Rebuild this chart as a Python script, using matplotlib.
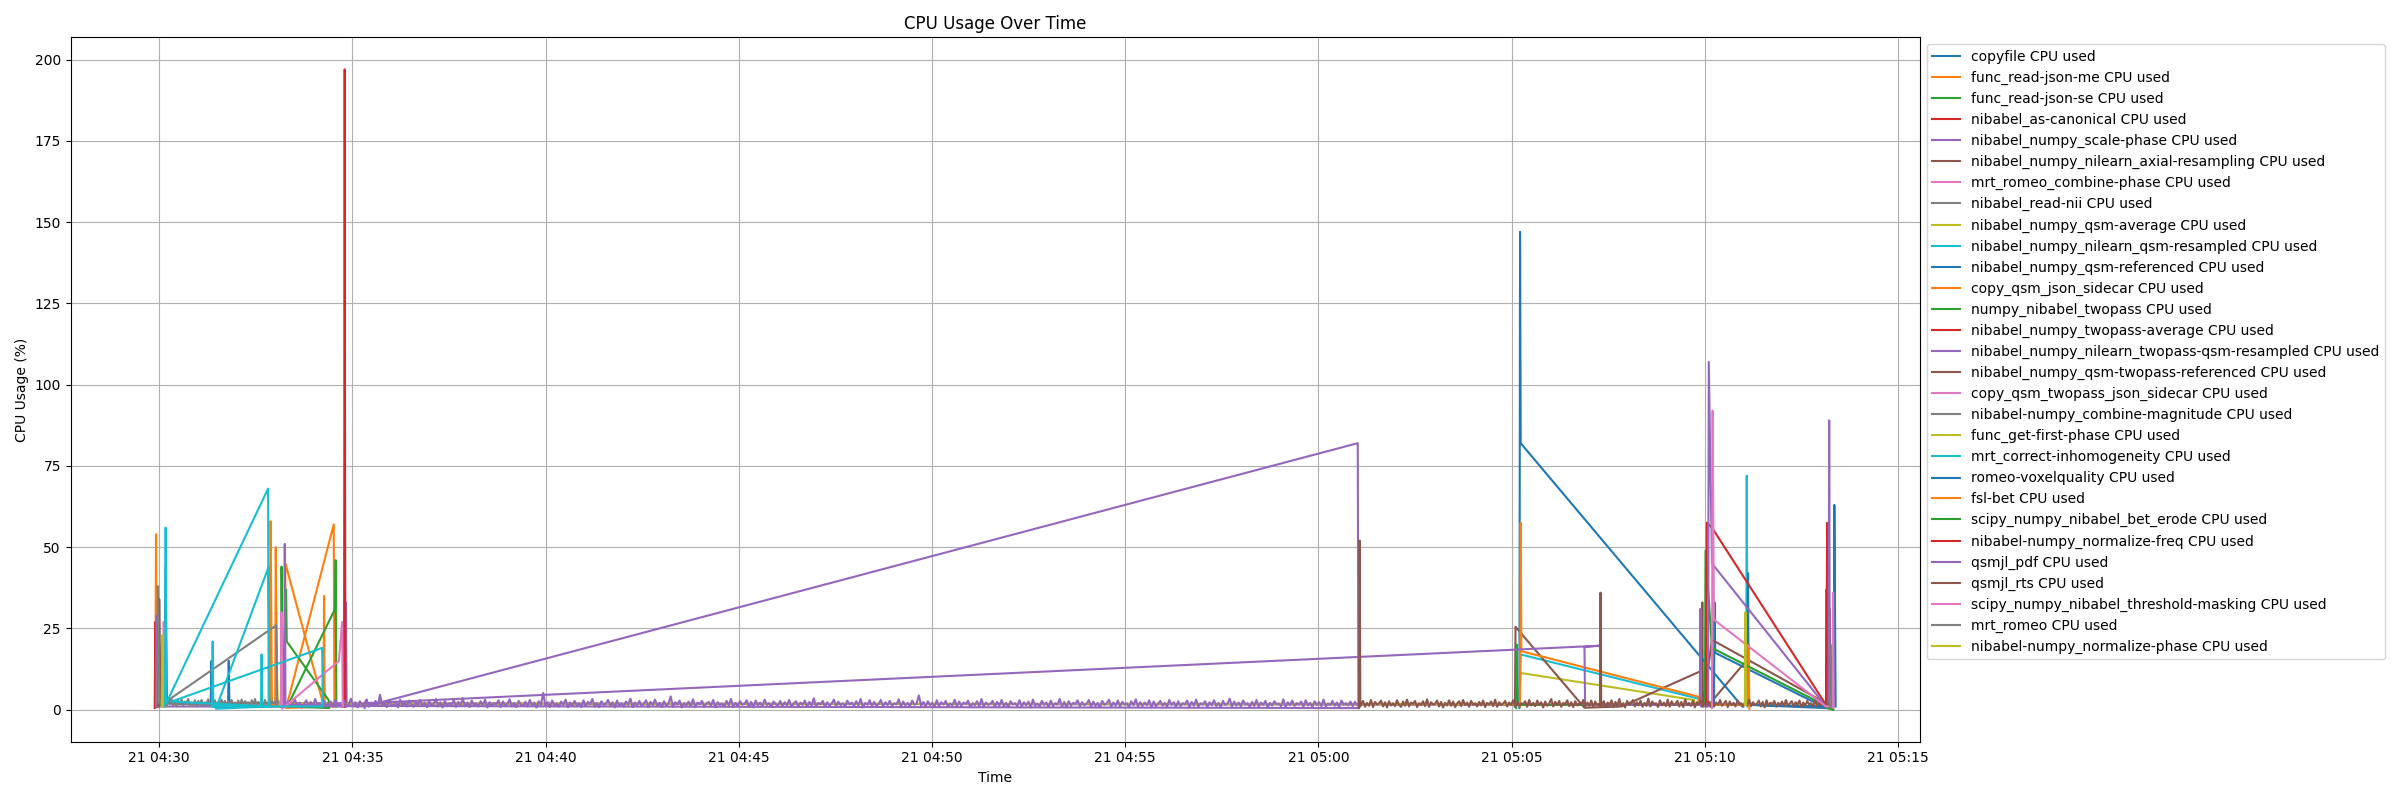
import matplotlib
matplotlib.use("Agg")
import matplotlib.pyplot as plt
import pandas as pd

DAY = "2024-05-21"

# (clock time, cpu %) samples per process
copyfile = [("04:30:08", 1.0), ("04:30:10", 44.0), ("04:30:12", 2.0), ("04:31:20", 1.5),
            ("04:31:21", 15.0), ("04:31:22", 1.0), ("04:31:47", 1.2), ("04:31:48", 15.0), ("04:31:49", 0.8)]
read_json_me = [("04:29:54", 2.0), ("04:29:55", 54.0), ("04:29:57", 3.0)]
read_json_se = [("04:29:59", 1.0), ("04:30:00", 20.0), ("04:30:02", 1.5)]
as_canonical = [("04:29:53", 0.5), ("04:29:54", 27.0), ("04:29:56", 0.8)]
scale_phase = [("04:29:55", 1.0), ("04:29:56", 29.0), ("04:29:58", 1.0),
               ("04:34:49", 1.0), ("04:34:50", 33.0), ("04:34:51", 1.0)]
axial_resampling = [("04:29:59", 1.0), ("04:30:00", 34.0), ("04:30:02", 2.0),
                    ("05:10:06", 1.5), ("05:11:04", 15.0), ("05:11:05", 1.5)]
combine_phase = [("04:30:06", 1.0), ("04:30:07", 27.0), ("04:30:09", 1.5)]
read_nii = [("04:29:57", 2.0), ("04:29:58", 38.0), ("04:30:00", 2.5)]
qsm_average = [("04:33:01", 1.0), ("04:33:02", 20.0), ("04:33:04", 1.8), ("05:05:12", 1.8),
               ("05:05:14", 11.3), ("05:09:43", 3.0), ("05:09:44", 1.5)]
qsm_resampled = [("05:05:12", 1.0), ("05:05:14", 17.0), ("05:09:50", 3.4), ("05:09:51", 1.5),
                 ("05:11:04", 1.5), ("05:11:05", 72.0), ("05:11:06", 1.0)]
qsm_referenced = [("05:10:14", 1.0), ("05:10:15", 33.0), ("05:10:16", 17.5), ("05:13:08", 0.5),
                  ("05:11:06", 1.5), ("05:11:07", 42.0), ("05:11:08", 1.5),
                  ("05:13:20", 1.0), ("05:13:21", 63.0), ("05:13:23", 1.0)]
copy_qsm_json = [("04:32:52", 1.0), ("04:32:53", 58.0), ("04:32:55", 1.5), ("04:33:00", 1.0),
                 ("04:33:01", 50.0), ("04:33:03", 1.0), ("04:33:15", 1.0), ("04:33:16", 45.0),
                 ("04:34:13", 3.0), ("04:34:15", 1.0), ("04:34:16", 35.0), ("04:34:17", 1.0),
                 ("04:33:17", 0.5), ("04:34:31", 57.0), ("04:34:32", 1.0)]
twopass = [("04:33:09", 1.0), ("04:33:10", 44.0), ("04:33:12", 1.0), ("04:33:17", 37.0),
           ("04:33:18", 21.0), ("04:34:23", 3.0), ("04:34:24", 0.5), ("04:33:19", 1.0),
           ("04:34:33", 31.0), ("04:34:34", 46.0), ("04:34:35", 1.0)]
twopass_average = [("04:34:47", 1.0), ("04:34:48", 197.0), ("04:34:49", 1.0)]
twopass_qsm_resampled = [("04:33:14", 1.0), ("04:33:15", 51.0), ("04:33:16", 1.5),
                         ("04:35:20", 1.0), ("05:01:01", 82.0), ("05:01:02", 0.5)]
# background samples, in tenths of a percent
twopass_noise = [
    12, 26, 8, 19, 31, 10, 22, 6, 17, 29, 11, 24, 9, 33, 15, 20, 7, 27, 13, 18, 25, 9, 30, 14,
    21, 8, 28, 12, 16, 34, 10, 23, 7, 26, 15, 19, 32, 9, 22, 13, 27, 11, 46, 14, 20, 8, 29, 16,
    12, 25, 7, 31, 13, 22, 10, 28, 17, 9, 24, 15, 30, 11, 21, 8, 26, 14, 18, 33, 10, 23, 7, 27,
    12, 20, 16, 29, 9, 24, 13, 36, 11, 22, 8, 28, 15, 19, 10, 26, 14, 31, 7, 23, 12, 20, 17, 29,
    9, 25, 13, 18, 32, 10, 21, 8, 27, 16, 12, 24, 10, 30, 14, 22, 7, 26, 15, 52, 11, 23, 9, 28,
    13, 19, 10, 25, 16, 31, 8, 22, 12, 27, 14, 20, 9, 29, 11, 24, 17, 33, 10, 21, 8, 26, 15, 18,
    30, 12, 23, 7, 28, 13, 20, 10, 25, 16, 34, 9, 22, 14, 27, 11, 19, 29, 8, 24, 15, 31, 12, 21,
    9, 26, 13, 18, 41, 10, 23, 16, 28, 7, 20, 14, 25, 11, 32, 9, 22, 17, 27, 10, 19, 24, 13, 30,
    8, 23, 15, 19, 11, 27, 14, 33, 9, 21, 12, 26, 16, 18, 29, 10, 24, 7, 28, 13, 22, 11, 31, 15,
    20, 9, 25, 17, 12, 27, 10, 23, 14, 30, 8, 19, 26, 11, 22, 15, 28, 9, 24, 13, 35, 10, 21, 16,
    27, 8, 23, 12, 19, 31, 10, 25, 14, 20, 9, 28, 16, 22, 11, 26, 13, 33, 7, 21, 15, 29, 10, 24,
    12, 18, 30, 9, 23, 14, 27, 11, 20, 16, 32, 8, 25, 13, 21, 10, 28, 15, 19, 44, 12, 24, 9, 26,
    14, 21, 8, 29, 11, 23, 16, 27, 10, 19, 13, 31, 9, 25, 12, 22, 17, 28, 8, 20, 14, 26, 11, 33,
    10, 22, 15, 18, 27, 9, 24, 13, 30, 11, 21, 8, 26, 16, 20, 12, 29, 10, 23, 14, 25, 7, 31, 13,
    19, 11, 27, 15, 22, 9, 28, 12, 20, 16, 33, 10, 24, 8, 26, 13, 21, 17, 29, 11, 23, 14, 18, 30,
    9, 25, 12, 21, 8, 27, 15, 19, 31, 10, 22, 13, 28, 11, 24, 16, 20, 9, 26, 14, 32, 10, 23, 12,
    22, 14, 29, 8, 25, 11, 19, 27, 13, 21, 10, 30, 15, 23, 9, 26, 12, 20, 17, 28, 10, 24, 13, 31,
    11, 20, 16, 26, 9, 23, 14, 29, 12, 21, 8, 27, 15, 19, 34, 10, 25, 13, 22, 11, 28, 16, 20, 9,
    24, 12, 30, 10, 22, 15, 27, 8, 21, 13, 26, 17, 19, 11, 32, 9, 23, 14, 28, 12, 20, 16, 25, 10,
    29, 13, 21, 9, 26, 15, 23, 11, 31, 10, 19, 14, 27, 12, 22, 8, 28, 16, 20, 13, 25, 11, 24, 15]
twopass_referenced = [("05:05:05", 1.0), ("05:05:06", 25.5), ("05:06:53", 0.6), ("05:07:51", 1.0),
                      ("05:09:55", 12.0), ("05:09:56", 33.0), ("05:09:57", 1.0), ("05:10:11", 21.5),
                      ("05:13:08", 2.0), ("05:13:09", 37.0), ("05:13:10", 1.0), ("05:13:14", 31.0),
                      ("05:13:15", 1.0)]
copy_twopass_json = [("04:33:09", 1.0), ("04:33:10", 30.0), ("04:33:11", 0.3), ("04:34:39", 15.0),
                     ("04:34:44", 27.0), ("04:34:45", 1.0)]
combine_magnitude = [("04:30:11", 2.5), ("04:33:02", 26.0), ("04:33:03", 1.0)]
magnitude_noise = [
    21, 30, 14, 26, 11, 29, 18, 32, 13, 24, 10, 28, 16, 31, 12, 25, 19, 33, 11, 22, 15, 29, 10, 27,
    17, 30, 13, 23, 18, 32, 12, 26, 14, 29, 11, 24, 19, 31, 15, 27, 10, 25, 16, 30, 13, 22, 18, 28,
    12, 31, 14, 26, 20, 23, 11, 29, 16, 33, 13, 24, 17, 27, 10, 30, 15, 22, 12, 28, 19, 25, 14, 26]
first_phase = [("04:30:04", 1.0), ("04:30:05", 23.0), ("04:30:07", 1.0)]
correct_inhom = [("04:30:09", 1.0), ("04:30:10", 56.0), ("04:30:11", 2.0), ("04:32:49", 68.0),
                 ("04:32:50", 1.0), ("04:31:28", 0.3), ("04:32:50", 44.0), ("04:32:51", 1.0),
                 ("04:30:19", 2.5), ("04:34:13", 19.0), ("04:34:14", 1.0), ("04:31:22", 1.0),
                 ("04:31:23", 21.0), ("04:31:24", 1.0), ("04:32:38", 1.0), ("04:32:39", 17.0),
                 ("04:32:40", 1.0)]
voxelquality = [("05:05:12", 0.5), ("05:05:13", 147.0), ("05:05:14", 82.0), ("05:10:58", 1.0)]
fsl_bet = [("05:05:13", 1.0), ("05:05:14", 57.5), ("05:05:15", 18.0), ("05:09:50", 4.0),
           ("05:09:51", 1.5), ("05:11:07", 1.5), ("05:11:08", 20.0), ("05:11:09", 0.3)]
bet_erode = [("05:05:07", 0.5), ("05:05:08", 20.0), ("05:05:09", 1.5), ("05:10:00", 1.5),
             ("05:10:01", 49.0), ("05:10:11", 19.0), ("05:13:20", 0.0), ("05:13:09", 0.5),
             ("05:13:10", 43.0), ("05:13:11", 0.5)]
normalize_freq = [("05:10:02", 1.0), ("05:10:03", 57.5), ("05:10:11", 56.0), ("05:13:08", 1.5),
                  ("05:13:10", 57.5), ("05:13:11", 1.0)]
qsmjl_pdf = [("04:35:19", 0.5), ("04:35:20", 2.0), ("05:07:18", 19.7), ("05:06:53", 19.3),
             ("05:06:54", 1.5), ("05:09:52", 1.5), ("05:09:53", 31.0), ("05:09:54", 1.0),
             ("05:10:05", 1.0), ("05:10:06", 107.0), ("05:10:11", 45.0), ("05:13:08", 1.0),
             ("05:13:12", 1.0), ("05:13:13", 89.0), ("05:13:14", 1.0)]
qsmjl_rts = [("05:01:03", 0.5), ("05:01:04", 52.0), ("05:01:05", 1.0)]
rts_noise_a = [
    14, 27, 9, 21, 12, 30, 8, 24, 16, 19, 28, 10, 23, 7, 26, 13, 20, 11, 29, 15, 9, 25, 12, 31,
    10, 22, 17, 27, 8, 20, 14, 26, 11, 32, 9, 23, 16, 18, 28, 10, 24, 7, 21, 13, 29, 12, 25, 8,
    19, 26, 11, 30, 14, 22, 9, 27, 15, 20, 10, 24, 13, 28, 8, 21, 16, 25, 11, 31, 9, 23, 14, 19,
    27, 10, 22, 15, 29, 8, 24, 12, 20, 17, 26, 9, 30, 13, 21, 11, 28, 15, 23, 7, 25, 12, 19, 33,
    10, 24, 14, 27, 9, 21, 16, 29, 11, 23, 8, 26, 13, 20, 15, 30, 10, 22, 12, 28, 9, 25, 14, 18]
rts_spike = [("05:07:17", 1.0), ("05:07:18", 36.0), ("05:07:19", 1.0)]
rts_noise_b = [
    13, 26, 9, 22, 15, 29, 8, 24, 11, 33, 12, 20, 7, 27, 16, 19, 30, 10, 23, 14, 28, 9, 21, 12,
    34, 10, 25, 17, 20, 8, 29, 13, 22, 11, 31, 9, 26, 15, 18, 27, 10, 24, 8, 32, 14, 21, 12, 28,
    7, 23, 16, 29, 10, 20, 13, 26, 9, 24, 11, 22, 15, 30, 12, 19, 27, 8, 25, 14, 21, 10, 28, 16,
    20, 9, 26, 13, 31, 11, 23, 15, 18, 28, 10, 24, 7, 29, 12, 22, 16, 27, 9, 21, 14, 25, 11, 30,
    13, 19, 26, 10, 23, 15, 28, 8, 22, 12, 27, 16, 20, 9, 30, 11, 24, 14, 21, 10, 26, 13, 19, 25]
threshold_masking = [("05:10:11", 0.5), ("05:10:12", 92.0), ("05:10:14", 27.7), ("05:13:08", 1.0),
                     ("05:13:18", 1.0), ("05:13:19", 36.0), ("05:13:20", 0.5)]
mrt_romeo = [("05:13:14", 1.0), ("05:13:15", 20.0), ("05:13:16", 1.0)]
normalize_phase = [("05:11:02", 1.5), ("05:11:03", 30.0), ("05:11:04", 1.5)]


def ts(clock):
    return pd.Timestamp(f"{DAY} {clock}")


def block(start, end, tenths):
    # evenly spaced samples between two clock times
    times = pd.date_range(ts(start), ts(end), periods=len(tenths))
    return [(t, v / 10) for t, v in zip(times, tenths)]


def unpack(pairs):
    times = [p[0] if isinstance(p[0], pd.Timestamp) else ts(p[0]) for p in pairs]
    return times, [p[1] for p in pairs]


series = [
    ("copyfile", copyfile),
    ("func_read-json-me", read_json_me),
    ("func_read-json-se", read_json_se),
    ("nibabel_as-canonical", as_canonical),
    ("nibabel_numpy_scale-phase", scale_phase),
    ("nibabel_numpy_nilearn_axial-resampling", axial_resampling),
    ("mrt_romeo_combine-phase", combine_phase),
    ("nibabel_read-nii", read_nii),
    ("nibabel_numpy_qsm-average", qsm_average),
    ("nibabel_numpy_nilearn_qsm-resampled", qsm_resampled),
    ("nibabel_numpy_qsm-referenced", qsm_referenced),
    ("copy_qsm_json_sidecar", copy_qsm_json),
    ("numpy_nibabel_twopass", twopass),
    ("nibabel_numpy_twopass-average", twopass_average),
    ("nibabel_numpy_nilearn_twopass-qsm-resampled",
     twopass_qsm_resampled + block("04:33:17", "05:01:00", twopass_noise)),
    ("nibabel_numpy_qsm-twopass-referenced", twopass_referenced),
    ("copy_qsm_twopass_json_sidecar", copy_twopass_json),
    ("nibabel-numpy_combine-magnitude",
     combine_magnitude + block("04:30:01", "04:33:05", magnitude_noise)),
    ("func_get-first-phase", first_phase),
    ("mrt_correct-inhomogeneity", correct_inhom),
    ("romeo-voxelquality", voxelquality),
    ("fsl-bet", fsl_bet),
    ("scipy_numpy_nibabel_bet_erode", bet_erode),
    ("nibabel-numpy_normalize-freq", normalize_freq),
    ("qsmjl_pdf", qsmjl_pdf),
    ("qsmjl_rts", qsmjl_rts + block("05:01:06", "05:07:16", rts_noise_a) + rts_spike
     + block("05:07:20", "05:13:18", rts_noise_b)),
    ("scipy_numpy_nibabel_threshold-masking", threshold_masking),
    ("mrt_romeo", mrt_romeo),
    ("nibabel-numpy_normalize-phase", normalize_phase),
]

fig, ax = plt.subplots(figsize=(24, 8))
for name, pairs in series:
    times, vals = unpack(pairs)
    ax.plot(times, vals, label=f"{name} CPU used")

ax.set_title("CPU Usage Over Time")
ax.set_xlabel("Time")
ax.set_ylabel("CPU Usage (%)")
ax.grid(True)
ax.legend(loc="upper left", bbox_to_anchor=(1, 1))
plt.tight_layout()
plt.savefig("out.png", dpi=100)
